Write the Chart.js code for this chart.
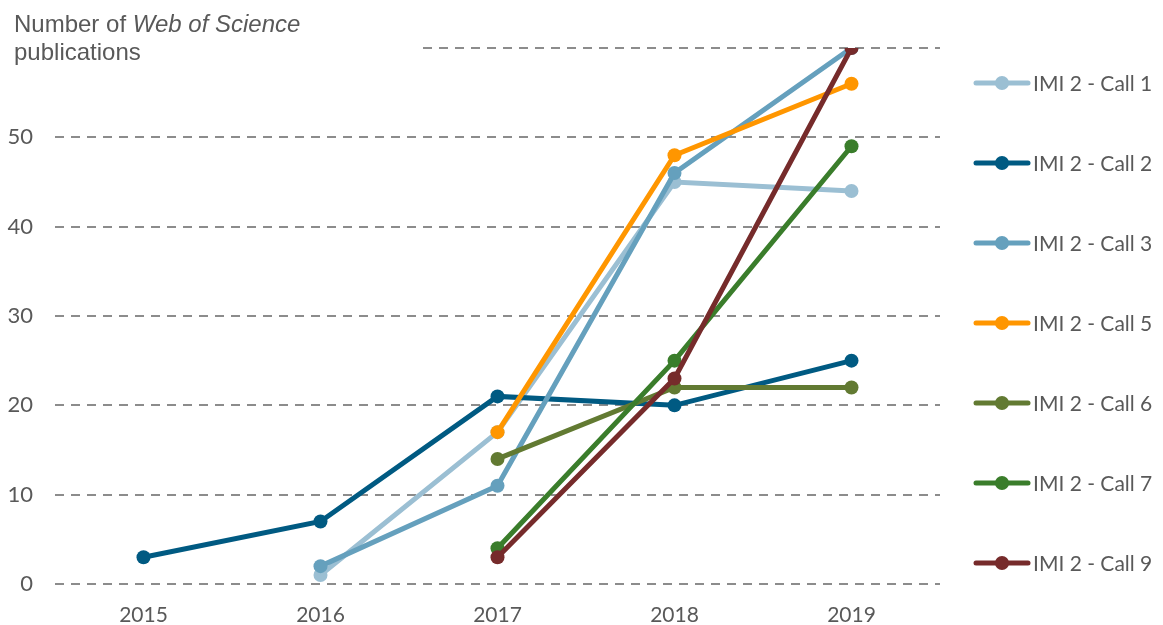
<!DOCTYPE html>
<html>
<head>
<meta charset="utf-8">
<script src="https://cdn.jsdelivr.net/npm/chart.js@4.4.1/dist/chart.umd.min.js"></script>
<style>
html,body{margin:0;padding:0;background:#fff;}
#wrap{width:1163px;height:625px;position:relative;}
</style>
</head>
<body>
<div id="wrap"><canvas id="c" width="1163" height="625"></canvas></div>
<script>
const years = ['2015','2016','2017','2018','2019'];
const seriesNames = ['IMI 2 - Call 1','IMI 2 - Call 2','IMI 2 - Call 3','IMI 2 - Call 5','IMI 2 - Call 6','IMI 2 - Call 7','IMI 2 - Call 9'];
const call1 = [null, 1, 17, 45, 44];
const call2 = [3, 7, 21, 20, 25];
const call3 = [null, 2, 11, 46, 60];
const call5 = [null, null, 17, 48, 56];
const call6 = [null, null, 14, 22, 22];
const call7 = [null, null, 4, 25, 49];
const call9 = [null, null, 3, 23, 60];
const yTicks = [0, 10, 20, 30, 40, 50, 60];
const colors = ['#9BBFD3','#005A82','#65A0BD','#FF9600','#627A32','#3A7D2B','#762B2B'];
const allData = [call1, call2, call3, call5, call6, call7, call9];

const datasets = allData.map((d, i) => ({
  label: seriesNames[i],
  data: d,
  borderColor: colors[i],
  backgroundColor: colors[i],
  pointBackgroundColor: colors[i],
  pointBorderColor: colors[i],
  borderWidth: 5,
  pointRadius: 7,
  pointBorderWidth: 0,
  pointHoverRadius: 7,
  tension: 0,
  spanGaps: false,
  order: allData.length - i
}));

const overlayPlugin = {
  id: 'overlay',
  beforeDatasetsDraw(chart) {
    const ctx = chart.ctx;
    ctx.save();
    ctx.fillStyle = '#fff';
    ctx.fillRect(0, 0, 418, 70);
    ctx.fillStyle = '#595959';
    ctx.textBaseline = 'alphabetic';
    ctx.textAlign = 'left';
    ctx.font = '24px "Liberation Sans", Arial, sans-serif';
    const p1 = 'Number of ';
    ctx.fillText(p1, 14, 32);
    let w = ctx.measureText(p1).width;
    ctx.font = 'italic 24px "Liberation Sans", Arial, sans-serif';
    ctx.fillText('Web of Science', 14 + w, 32);
    ctx.font = '24px "Liberation Sans", Arial, sans-serif';
    ctx.fillText('publications', 14, 60);
    ctx.restore();
  },
  afterDraw(chart) {
    const ctx = chart.ctx;
    ctx.save();
    const ys = [83, 163, 243, 323, 403, 483, 563];
    chart.data.datasets.forEach((ds, i) => {
      const y = ys[i];
      ctx.strokeStyle = ds.borderColor;
      ctx.lineWidth = 5;
      ctx.lineCap = 'round';
      ctx.beginPath();
      ctx.moveTo(976, y);
      ctx.lineTo(1028, y);
      ctx.stroke();
      ctx.fillStyle = ds.borderColor;
      ctx.beginPath();
      ctx.arc(1002, y, 7, 0, Math.PI * 2);
      ctx.fill();
      ctx.fillStyle = '#595959';
      ctx.font = '21px Lato, "Open Sans", sans-serif';
      ctx.textBaseline = 'middle';
      ctx.textAlign = 'left';
      ctx.fillText(ds.label, 1033, y + 1);
    });
    ctx.restore();
  }
};

new Chart(document.getElementById('c'), {
  type: 'line',
  data: { labels: years, datasets },
  options: {
    responsive: false,
    animation: false,
    devicePixelRatio: 1,
    layout: { padding: { top: 48, right: 223, left: 0, bottom: 0 } },
    plugins: { legend: { display: false }, tooltip: { enabled: false } },
    scales: {
      x: {
        type: 'category',
        offset: true,
        grid: { display: false, drawTicks: false },
        border: { display: false },
        ticks: { color: '#595959', font: { family: 'Lato', size: 21 }, padding: 19 },
        afterFit(s) { s.height = 41; }
      },
      y: {
        min: 0, max: 60,
        afterBuildTicks(s) { s.ticks = yTicks.map(v => ({ value: v })); },
        grid: { color: '#8c8c8c', lineWidth: 2, drawTicks: false },
        border: { display: false, dash: [9, 7] },
        ticks: {
          color: '#595959', font: { family: 'Lato', size: 22 }, padding: 22,
          callback: (v) => v === 60 ? '' : v
        },
        afterFit(s) { s.width = 55; }
      }
    }
  },
  plugins: [overlayPlugin]
});
</script>
</body>
</html>
